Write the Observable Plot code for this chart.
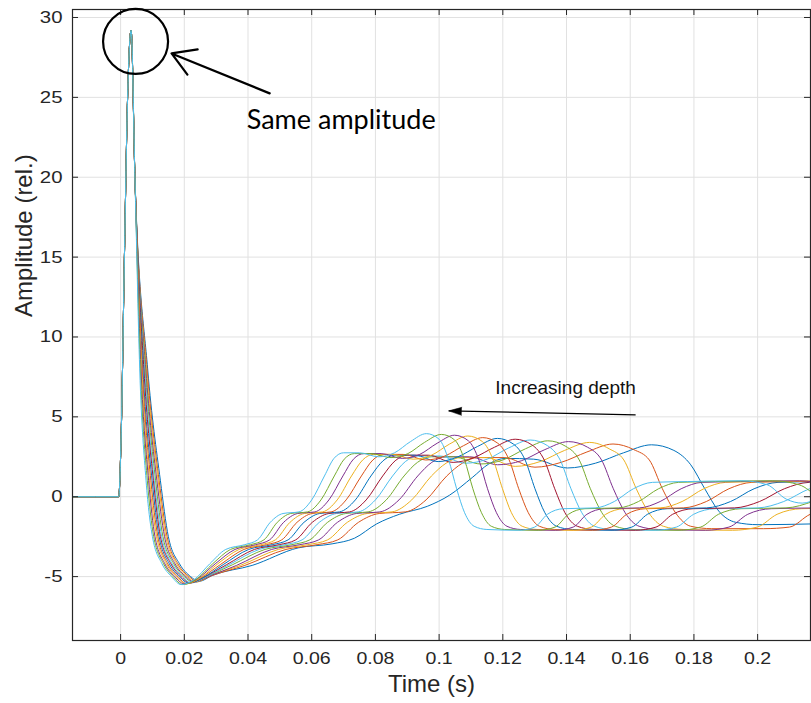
<!DOCTYPE html>
<html><head><meta charset="utf-8">
<script src="https://cdn.jsdelivr.net/npm/d3@7"></script>
<script src="https://cdn.jsdelivr.net/npm/@observablehq/plot@0.6"></script>
<style>html,body{margin:0;padding:0;background:#fff;}</style>
</head><body><div id="chart"></div>
<script>
// ---- axis ticks ----
const xTicks = [0, 0.02, 0.04, 0.06, 0.08, 0.1, 0.12, 0.14, 0.16, 0.18, 0.2];
const xTickLabels = ["0", "0.02", "0.04", "0.06", "0.08", "0.1", "0.12", "0.14", "0.16", "0.18", "0.2"];
const yTicks = [-5, 0, 5, 10, 15, 20, 25, 30];
const yTickLabels = ["-5", "0", "5", "10", "15", "20", "25", "30"];
const xLabel = "Time (s)";
const yLabel = "Amplitude (rel.)";

// MATLAB default colour order
const palette = ["#0072BD", "#D95319", "#EDB120", "#7E2F8E", "#77AC30", "#4DBEEE", "#A2142F"];

// ---- series: [time in ms, amplitude] ----
// common onset + spike (identical for every trace)
const spike = [[-15, 0], [-0.6, 0], [0.2, 4], [1.2, 15], [2.2, 25], [3.3, 29.2], [4.5, 20]];

const s00 = [[8.5,8],[12.5,1],[15,-2.5],[18.5,-4.2],[22,-5],[24.5,-5.3],[29.1,-4.9],[41.3,-4.3],[55.8,-3.2],[66.4,-2.95],[73.4,-2.6],[80.4,-1.7],[87.5,-1.1],[96.3,-0.6],[103.3,0.1],[110.4,1.2],[115.6,2.05],[120.9,2.4],[129.7,2.35],[140.3,1.8],[149.1,2.1],[157.9,2.75],[166.7,3.25],[173.7,2.9],[179,2.0],[183.4,0.5],[187.8,-0.9],[193.1,-1.6],[200.1,-1.75],[217.7,-1.7]];
const s01 = [[8.3,8],[12.1,1],[14.6,-2.5],[18,-4.2],[21.5,-5],[24,-5.3],[28.5,-4.95],[39,-4.3],[51.9,-3.3],[61.7,-3],[68.2,-2.7],[74.7,-1.6],[81.2,-1.05],[89.4,-0.95],[95.9,-0.2],[102.4,1.3],[107.3,2.1],[112.2,2.45],[120.4,2.45],[130.1,1.85],[138.3,2.15],[146.4,2.8],[154.6,3.3],[161.1,2.95],[166,2.3],[170.1,0.5],[174.2,-1],[179,-1.85],[185.6,-2.0],[201.9,-2.0],[210,-1.9],[216.5,-1.1],[224.7,-0.75]];
const s02 = [[8.1,8],[11.8,1],[14.2,-2.5],[17.6,-4.2],[21,-5],[23.6,-5.35],[28,-4.95],[37.6,-4.3],[49.5,-3.3],[58.8,-3],[65,-2.7],[71.2,-1.6],[77.4,-1.05],[85.2,-0.95],[91.4,-0.2],[97.6,1.3],[102.2,2.1],[106.9,2.45],[114.6,2.45],[123.9,1.9],[131.7,2.2],[139.4,2.9],[147.2,3.4],[153.4,3],[158,2.3],[161.9,0.5],[165.8,-1],[170.4,-1.85],[176.6,-2.05],[192.1,-2.1],[199.9,-1.9],[206.1,-1.1],[213.8,-0.75],[229.3,-0.7]];
const s03 = [[7.9,8],[11.4,1],[13.8,-2.5],[17.1,-4.2],[20.5,-5],[23.1,-5.35],[27.5,-5],[36.4,-4.3],[47.4,-3.3],[56.3,-3],[62.2,-2.7],[68.1,-1.6],[74,-1.05],[81.4,-0.95],[87.4,-0.2],[93.3,1.3],[97.7,2.15],[102.2,2.5],[109.6,2.5],[118.4,2],[125.8,2.25],[133.2,2.95],[140.6,3.45],[146.6,3.1],[151,2.3],[154.7,0.5],[158.4,-1],[162.8,-1.85],[168.8,-2.05],[183.6,-2.1],[191,-1.9],[196.9,-1.1],[204.3,-0.75],[219.1,-0.7]];
const s04 = [[7.7,8],[11,1],[13.3,-2.5],[16.7,-4.2],[20,-5],[22.7,-5.35],[27,-5],[35.2,-4.25],[45.3,-3.3],[53.8,-3],[59.4,-2.7],[65,-1.6],[70.7,-1.05],[77.7,-0.95],[83.4,-0.2],[89,1.3],[93.2,2.15],[97.5,2.5],[104.5,2.5],[113,2.05],[120,2.3],[127.1,3],[134.1,3.5],[139.8,3.15],[144,2.3],[147.5,0.5],[151.1,-1],[155.3,-1.85],[160.9,-2.05],[175,-2.1],[182.1,-1.9],[187.7,-1.1],[194.8,-0.75],[208.9,-0.7],[217.3,-0.3]];
const s05 = [[7.5,8],[10.6,1],[12.9,-2.5],[16.2,-4.2],[19.5,-5],[22.2,-5.4],[26.5,-5.05],[34.1,-4.25],[43.5,-3.3],[51.6,-3],[57,-2.7],[62.4,-1.6],[67.8,-1.05],[74.6,-0.95],[80,-0.2],[85.4,1.3],[89.4,2.2],[93.5,2.55],[100.2,2.55],[108.3,2.1],[115.1,2.35],[121.8,3.05],[128.6,3.55],[134,3.2],[138,2.3],[141.4,0.5],[144.8,-1],[148.8,-1.85],[154.2,-2.05],[167.7,-2.1],[174.5,-1.9],[179.9,-1.1],[186.6,-0.75],[200.1,-0.7],[208.2,-0.3],[216.3,0.5],[224.4,0.9]];
const s06 = [[7.3,8],[10.3,1],[12.5,-2.5],[15.8,-4.2],[19,-5],[21.8,-5.4],[26,-5.05],[33.3,-4.25],[42,-3.3],[49.8,-3],[55,-2.7],[60.2,-1.6],[65.4,-1.05],[71.9,-0.95],[77.1,-0.2],[82.3,1.3],[86.2,2.25],[90.1,2.6],[96.6,2.6],[104.4,2.15],[110.9,2.45],[117.4,3.1],[123.9,3.6],[129.1,3.25],[133,2.3],[136.3,0.5],[139.5,-1],[143.4,-1.85],[148.6,-2.05],[161.6,-2.1],[168.1,-1.9],[173.3,-1.1],[179.8,-0.75],[192.8,-0.7],[200.6,-0.3],[208.4,0.5],[216.2,0.9],[230.5,0.95]];
const s07 = [[7.0,8],[9.9,1],[12.1,-2.5],[15.3,-4.2],[18.5,-5],[21.3,-5.4],[25.5,-5.1],[32.2,-4.25],[40.2,-3.3],[47.6,-3],[52.6,-2.7],[57.6,-1.6],[62.5,-1.05],[68.7,-0.95],[73.7,-0.2],[78.6,1.3],[82.4,2.25],[86.1,2.6],[92.3,2.6],[99.7,2.2],[105.9,2.5],[112.1,3.15],[118.3,3.65],[123.3,3.3],[127,2.3],[130.1,0.5],[133.2,-1],[136.9,-1.85],[141.9,-2.05],[154.3,-2.1],[160.5,-1.9],[165.4,-1.1],[171.6,-0.75],[184,-0.7],[191.5,-0.3],[198.9,0.5],[206.4,0.9],[220,0.95]];
const s08 = [[6.8,8],[9.5,1],[11.7,-2.5],[14.8,-4.2],[18,-5],[20.8,-5.45],[25,-5.1],[31.3,-4.25],[38.7,-3.3],[45.8,-3],[50.6,-2.7],[55.4,-1.6],[60.1,-1.05],[66.1,-0.95],[70.8,-0.2],[75.6,1.3],[79.2,2.3],[82.7,2.65],[88.7,2.65],[95.8,2.3],[101.8,2.55],[107.7,3.2],[113.7,3.7],[118.4,3.35],[122,2.3],[125,0.5],[128,-1],[131.5,-1.85],[136.3,-2.05],[148.2,-2.1],[154.1,-1.9],[158.9,-1.1],[164.8,-0.75],[176.7,-0.7],[183.9,-0.3],[191,0.5],[198.2,0.9],[211.3,0.95],[231.5,1]];
const s09 = [[6.6,8],[9.1,1],[11.3,-2.5],[14.4,-4.2],[17.5,-5],[20.4,-5.45],[24.5,-5.15],[30.5,-4.2],[37.2,-3.3],[44,-3],[48.6,-2.7],[53.2,-1.6],[57.7,-1.05],[63.4,-0.95],[68,-0.2],[72.5,1.3],[76,2.3],[79.4,2.65],[85.1,2.65],[91.9,2.35],[97.6,2.6],[103.3,3.3],[109,3.8],[113.6,3.45],[117,2.3],[119.9,0.5],[122.7,-1],[126.1,-1.85],[130.7,-2.05],[142.1,-2.1],[147.8,-1.9],[152.3,-1.1],[158,-0.75],[169.4,-0.7],[176.3,-0.3],[183.1,0.5],[190,0.9],[202.5,0.95],[221.9,1]];
const s10 = [[6.4,8],[8.8,1],[10.8,-2.5],[13.9,-4.2],[17,-5],[19.9,-5.45],[24,-5.15],[29.7,-4.2],[35.9,-3.3],[42.4,-3],[46.8,-2.7],[51.2,-1.6],[55.6,-1.05],[61,-0.95],[65.4,-0.2],[69.8,1.3],[73.1,2.35],[76.4,2.7],[81.8,2.7],[88.4,2.4],[93.9,2.65],[99.4,3.35],[104.8,3.85],[109.2,3.5],[112.5,2.3],[115.2,0.5],[118,-1],[121.3,-1.85],[125.6,-2.05],[136.6,-2.1],[142.1,-1.9],[146.4,-1.1],[151.9,-0.75],[162.9,-0.7],[169.4,-0.3],[176,0.5],[182.6,0.9],[194.6,0.95],[213.2,1],[222,0.75]];
const s11 = [[6.2,8],[8.4,1],[10.4,-2.5],[13.5,-4.2],[16.5,-5],[19.5,-5.5],[23.5,-5.2],[28.9,-4.2],[34.5,-3.3],[40.8,-3],[45,-2.7],[49.2,-1.6],[53.4,-1.05],[58.7,-0.95],[62.9,-0.2],[67.1,1.3],[70.2,2.35],[73.4,2.7],[78.6,2.7],[84.9,2.45],[90.2,2.7],[95.4,3.4],[100.7,3.9],[104.9,3.55],[108,2.3],[110.6,0.5],[113.3,-1],[116.4,-1.85],[120.6,-2.05],[131.1,-2.1],[136.4,-1.9],[140.6,-1.1],[145.8,-0.75],[156.3,-0.7],[162.6,-0.3],[168.9,0.5],[175.2,0.9],[186.8,0.95],[204.6,1],[213,0.75],[219.3,-0.15]];
const s12 = [[6,8],[8,1],[10,-2.5],[13,-4.2],[16,-5],[19,-5.5],[23,-5.2],[28,-4.2],[33,-3.3],[39,-3],[43,-2.7],[47,-1.6],[51,-1.05],[56,-0.95],[60,-0.2],[64,1.3],[67,2.4],[70,2.75],[75,2.75],[81,2.5],[86,2.75],[91,3.45],[96,3.95],[100,3.6],[103,2.3],[105.5,0.5],[108,-1],[111,-1.85],[115,-2.05],[125,-2.1],[130,-1.9],[134,-1.1],[139,-0.75],[149,-0.7],[155,-0.3],[161,0.5],[167,0.9],[178,0.95],[195,1],[203,0.75],[209,-0.15],[214,-0.4],[219,-0.1]];
const seriesList = [s00, s01, s02, s03, s04, s05, s06, s07, s08, s09, s10, s11, s12];

// ---- annotations (data coordinates) ----
const circleNote = [{t: 0.0047, v: 28.5}];
const arrowSame = [{t1: 0.0468, v1: 25.25, t2: 0.016, v2: 27.75}];
const textSame = [{t: 0.0396, v: 23.05, label: "Same amplitude"}];
const arrowDepth = [{t1: 0.1617, v1: 5.125, t2: 0.103, v2: 5.375}];
const textDepth = [{t: 0.1397, v: 6.45, label: "Increasing depth"}];

// ---- layout ----
const W = 811, H = 703, mL = 72, mR = 1, mT = 9, mB = 63;
const plotW = W - mL - mR, plotH = H - mT - mB;
const axisColor = "#262626";
const gridColor = "#e1e1e1";

const lineMarks = seriesList.map((s, i) =>
  Plot.line([...spike, ...s].map(([ms, v]) => ({t: ms / 1000, v})), {
    x: "t", y: "v", stroke: palette[i % 7], strokeWidth: 1, curve: "monotone-x", clip: true
  })
);

const chart = Plot.plot({
  width: W, height: H,
  marginLeft: mL, marginRight: mR, marginTop: mT, marginBottom: mB,
  x: {domain: [-0.0151, 0.2166], label: null},
  y: {domain: [-9, 30.5], label: null},
  style: {fontFamily: "'Liberation Sans', Arial, sans-serif", fontSize: "17px", background: "#fff", color: axisColor, overflow: "visible"},
  marks: [
    Plot.ruleX(xTicks, {x: d => d, stroke: gridColor, strokeWidth: 1}),
    Plot.ruleY(yTicks, {y: d => d, stroke: gridColor, strokeWidth: 1}),
    ...lineMarks,
    Plot.frame({stroke: axisColor, strokeWidth: 1.2}),
    Plot.tickX(xTicks, {x: d => d, insetTop: plotH - 6, stroke: axisColor}),
    Plot.tickX(xTicks, {x: d => d, insetBottom: plotH - 6, stroke: axisColor}),
    Plot.tickY(yTicks, {y: d => d, insetRight: plotW - 6, stroke: axisColor}),
    Plot.tickY(yTicks, {y: d => d, insetLeft: plotW - 6, stroke: axisColor}),
    Plot.axisX(xTicks, {tickSize: 0, tickPadding: 11, fontSize: 17, label: null,
      tickFormat: d => xTickLabels[xTicks.indexOf(d)]}),
    Plot.axisY(yTicks, {tickSize: 0, tickPadding: 10, fontSize: 17, label: null,
      tickFormat: d => yTickLabels[yTicks.indexOf(d)]}),
    Plot.text([xLabel], {text: d => d, frameAnchor: "bottom", lineAnchor: "top", dy: 34, dx: -10,
      fontSize: 24, fill: axisColor, ariaLabel: "x-title"}),
    Plot.text([yLabel], {text: d => d, frameAnchor: "left", rotate: -90, lineAnchor: "middle", dx: -48, dy: -8,
      fontSize: 24, fill: axisColor, ariaLabel: "y-title"}),
    // annotations
    Plot.dot(circleNote, {x: "t", y: "v", r: 32.5, stroke: "#000", strokeWidth: 2.2, fill: "none"}),
    Plot.arrow(arrowSame, {x1: "t1", y1: "v1", x2: "t2", y2: "v2", stroke: "#000", strokeWidth: 2.2,
      headLength: 18, headAngle: 62}),
    Plot.text(textSame, {x: "t", y: "v", text: "label", textAnchor: "start", lineAnchor: "bottom",
      fontFamily: "Lato, 'Open Sans', sans-serif", fontSize: 27, fill: "#000", ariaLabel: "note-same"}),
    Plot.link(arrowDepth, {x1: "t1", y1: "v1", x2: "t2", y2: "v2", stroke: "#000", strokeWidth: 1.4}),
    Plot.vector(arrowDepth, {x: "t2", y: "v2", length: 13, rotate: 272, anchor: "end", shape: "spike",
      r: 4, fill: "#000", stroke: "#000", strokeWidth: 0.5}),
    Plot.text(textDepth, {x: "t", y: "v", text: "label", textAnchor: "middle", lineAnchor: "bottom",
      fontSize: 19, fill: "#111", ariaLabel: "note-depth"})
  ]
});

// widen horizontal texts to match the horizontally stretched source rendering
function stretch(label, k) {
  chart.querySelectorAll(`g[aria-label="${label}"] text`).forEach(el => {
    const tr = el.getAttribute("transform") || "";
    el.setAttribute("transform", tr + ` scale(${k},1)`);
  });
}
stretch("x-axis tick label", 1.15);
stretch("y-axis tick label", 1.2);
stretch("x-title", 1.22);
stretch("note-same", 1.2);
stretch("note-depth", 1.15);

document.getElementById("chart").appendChild(chart);
</script>
</body></html>
